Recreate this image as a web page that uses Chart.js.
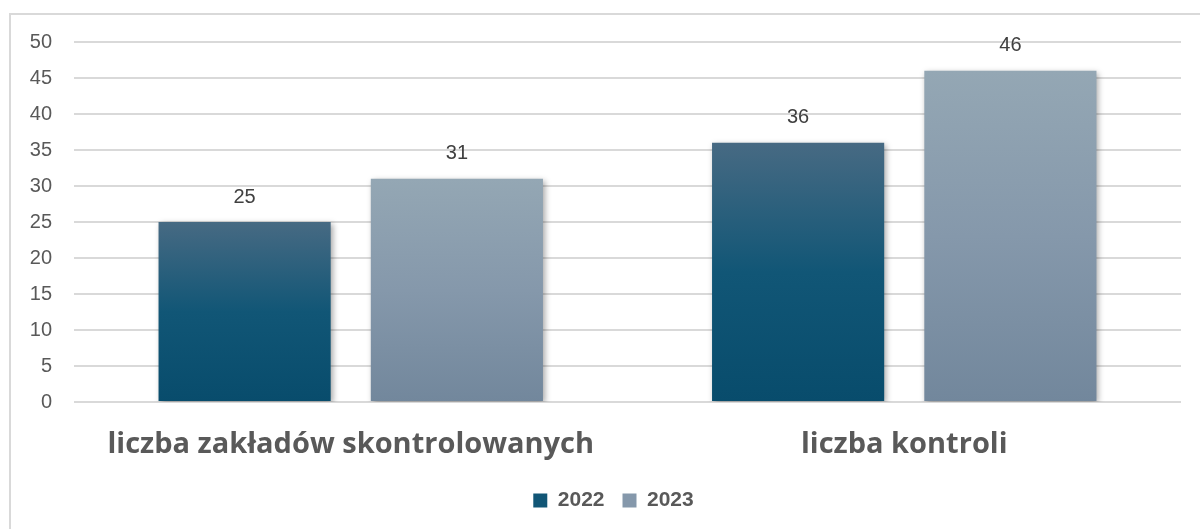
<!DOCTYPE html>
<html><head><meta charset="utf-8">
<script src="https://cdn.jsdelivr.net/npm/chart.js@4"></script>
<style>html,body{margin:0;padding:0;background:#fff;}#wrap{width:1200px;height:529px;position:relative;}</style>
</head><body><div id="wrap"><canvas id="c" width="1200" height="529"></canvas></div>
<script>
const categories = ["liczba zakładów skontrolowanych", "liczba kontroli"];
const seriesNames = ["2022", "2023"];
const values2022 = [25, 36];
const values2023 = [31, 46];
const yTicks = [0, 5, 10, 15, 20, 25, 30, 35, 40, 45, 50];

const gradStops = {
  "2022": ["#476a83", "#115676", "#084c6c"],
  "2023": ["#94a7b4", "#8598ab", "#72879c"]
};
function makeBg(name){
  return function(ctx){
    const chart = ctx.chart;
    if (!chart.chartArea || ctx.dataIndex === undefined) return gradStops[name][1];
    const v = ctx.dataset.data[ctx.dataIndex];
    const ys = chart.scales.y;
    const top = ys.getPixelForValue(v), bot = ys.getPixelForValue(0);
    const g = chart.ctx.createLinearGradient(0, top, 0, bot);
    const s = gradStops[name];
    g.addColorStop(0, s[0]); g.addColorStop(0.5, s[1]); g.addColorStop(1, s[2]);
    return g;
  };
}
const borderPlugin = {
  id: 'frame',
  beforeDraw(chart){
    const c = chart.ctx; c.save();
    c.strokeStyle = '#d9d9d9'; c.lineWidth = 2;
    c.strokeRect(10, 14, 1200, 530);
    c.restore();
  },
  afterLayout(chart){
    if (chart.legend) { chart.legend.left += 18; chart.legend.right += 18; }
  }
};
const shadowPlugin = {
  id: 'shadow',
  beforeDatasetsDraw(chart){
    const c = chart.ctx; c.save();
    c.shadowColor = 'rgba(0,0,0,0.35)'; c.shadowBlur = 6; c.shadowOffsetX = 2; c.shadowOffsetY = 2;
  },
  afterDatasetsDraw(chart){ chart.ctx.restore(); }
};
const labelPlugin = {
  id: 'vals',
  afterDatasetsDraw(chart){
    const c = chart.ctx; c.save();
    c.font = '20px "Liberation Sans", Arial, sans-serif';
    c.fillStyle = '#404040'; c.textAlign = 'center'; c.textBaseline = 'middle';
    chart.data.datasets.forEach((ds, i) => {
      chart.getDatasetMeta(i).data.forEach((bar, j) => {
        c.fillText(String(ds.data[j]), bar.x, bar.y - 25);
      });
    });
    c.restore();
  }
};
new Chart(document.getElementById('c'), {
  type: 'bar',
  data: {
    labels: categories,
    datasets: [
      { label: seriesNames[0], data: values2022, backgroundColor: makeBg("2022") },
      { label: seriesNames[1], data: values2023, backgroundColor: makeBg("2023") }
    ]
  },
  options: {
    responsive: false, animation: false,
    layout: { padding: { left: 10, right: 19, top: 42, bottom: 8 } },
    datasets: { bar: { categoryPercentage: 0.767, barPercentage: 0.811 } },
    plugins: {
      tooltip: { enabled: false },
      legend: {
        position: 'bottom',
        labels: {
          boxWidth: 14, boxHeight: 14, padding: 18, color: '#595959',
          font: { family: '"Liberation Sans", Arial, sans-serif', size: 21, weight: 'bold' },
          generateLabels(chart){
            return chart.data.datasets.map((ds, i) => ({
              text: ds.label, datasetIndex: i, lineWidth: 0, strokeStyle: 'rgba(0,0,0,0)',
              fillStyle: gradStops[seriesNames[i]][1], fontColor: '#595959', hidden: false
            }));
          }
        }
      }
    },
    scales: {
      x: {
        grid: { display: false, drawTicks: false },
        border: { display: false },
        ticks: { color: '#595959', padding: 25, maxRotation: 0, autoSkip: false,
          font: { family: '"Open Sans", sans-serif', size: 29, weight: 'bold' } },
        afterFit(s){ s.height = 70; }
      },
      y: {
        min: 0, max: 50,
        afterBuildTicks(s){ s.ticks = yTicks.map(v => ({ value: v })); },
        grid: { color: '#d9d9d9', lineWidth: 2, drawTicks: false },
        border: { display: false },
        ticks: { color: '#595959', padding: 22,
          font: { family: '"Liberation Sans", Arial, sans-serif', size: 20 } },
        afterFit(s){ s.width = 64; }
      }
    }
  },
  plugins: [borderPlugin, shadowPlugin, labelPlugin]
});
</script></body></html>
